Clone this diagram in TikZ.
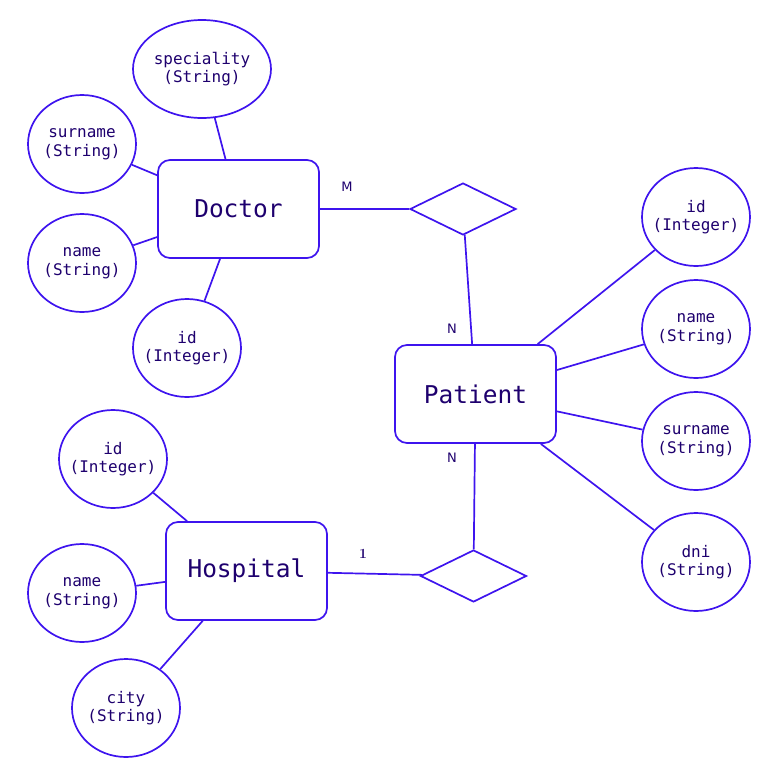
\documentclass[tikz,border=0pt]{standalone}
\usepackage{fontspec}
\usetikzlibrary{shapes.geometric}
\newfontfamily\erm{DejaVu Sans Mono}
\newfontfamily\erlab{DejaVu Sans}
\definecolor{stroke}{RGB}{62,20,238}
\definecolor{ink}{RGB}{30,0,110}
\tikzset{
  attr/.style={draw=stroke, line width=1.7pt, ellipse, inner ysep=0pt, inner xsep=-14pt, minimum width=108pt, minimum height=98pt, text=ink, font=\erm\fontsize{16}{18.5}\selectfont, align=center},
  ent/.style={draw=stroke, line width=1.7pt, rectangle, rounded corners=12pt, minimum width=161pt, minimum height=98pt, text=ink, font=\erm\fontsize{24.5}{28}\selectfont},
  rel/.style={draw=stroke, line width=1.7pt, diamond, aspect=2, inner sep=0pt, minimum width=106pt, minimum height=52pt},
  conn/.style={draw=stroke, line width=1.7pt},
  card/.style={text=ink, font=\erlab\fontsize{13}{15}\selectfont, inner sep=0pt}
}
\begin{document}
\begin{tikzpicture}[x=1pt,y=-1pt]
\useasboundingbox (0,0) rectangle (773,782);
% entities
\node[ent] (doctor) at (238.5,209) {Doctor};
\node[ent] (patient) at (475.5,394) {Patient};
\node[ent] (hospital) at (246.5,571) {Hospital};
% relationships
\node[rel] (r1) at (463,209) {};
\node[rel] (r2) at (473.5,576) {};
% doctor attributes
\node[attr, minimum width=138pt] (dspec) at (202,69) {speciality\\(String)};
\node[attr] (dsur) at (82,144) {surname\\(String)};
\node[attr] (dname) at (82,263) {name\\(String)};
\node[attr] (did) at (187,348) {id\\(Integer)};
% patient attributes
\node[attr] (pid) at (696,217) {id\\(Integer)};
\node[attr] (pname) at (696,329) {name\\(String)};
\node[attr] (psur) at (696,441) {surname\\(String)};
\node[attr] (pdni) at (696,562) {dni\\(String)};
% hospital attributes
\node[attr] (hid) at (113,459) {id\\(Integer)};
\node[attr] (hname) at (82,593) {name\\(String)};
\node[attr] (hcity) at (126,708) {city\\(String)};
% connectors
\draw[conn] (dspec) -- (doctor);
\draw[conn] (dsur) -- (doctor);
\draw[conn] (dname) -- (doctor);
\draw[conn] (did) -- (doctor);
\draw[conn] (doctor) -- (r1);
\draw[conn] (r1) -- (patient);
\draw[conn] (patient) -- (pid);
\draw[conn] (patient) -- (pname);
\draw[conn] (patient) -- (psur);
\draw[conn] (patient) -- (pdni);
\draw[conn] (patient) -- (r2);
\draw[conn] (hospital) -- (r2);
\draw[conn] (hid) -- (hospital);
\draw[conn] (hname) -- (hospital);
\draw[conn] (hcity) -- (hospital);
% cardinalities
\node[card] (cm) at (347,187) {M};
\node[card] (cn1) at (452,329) {N};
\node[card] (cn2) at (452,458) {N};
\node[text=ink, font=\fontsize{14}{16}\selectfont\bfseries, inner sep=0pt] (c1) at (363,554) {1};
\end{tikzpicture}
\end{document}
